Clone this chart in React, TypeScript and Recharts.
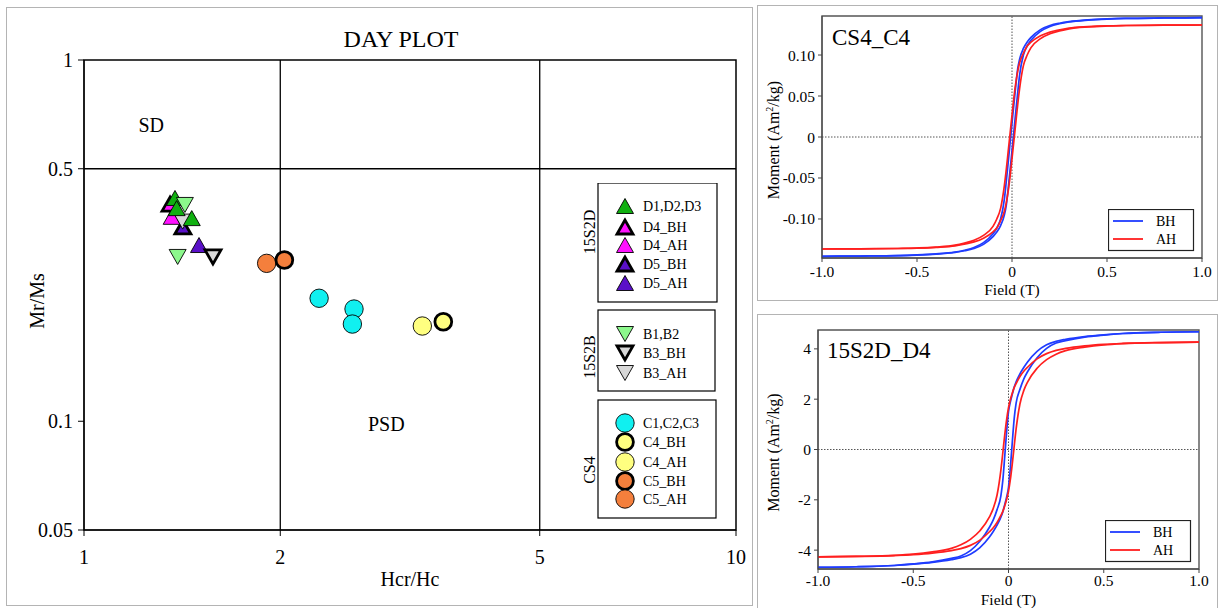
import React from "react";
import {
  ScatterChart,
  Scatter,
  LineChart,
  Line,
  XAxis,
  YAxis,
  ReferenceLine,
  ReferenceArea,
  Legend,
  Label,
} from "recharts";

const FONT = '"Liberation Serif", "Times New Roman", serif';

// ---- Day plot values (Hcr/Hc, Mr/Ms) ----
const d123 = [[1.379, 0.415], [1.387, 0.389], [1.463, 0.365]];
const d4bh = [[1.355, 0.399]];
const d4ah = [[1.363, 0.368]];
const d5bh = [[1.418, 0.345]];
const d5ah = [[1.501, 0.3075]];
const b12 = [[1.428, 0.397], [1.392, 0.285]];
const b3bh = [[1.577, 0.285]];
const b3ah = [[1.417, 0.357]];
const c123 = [[2.294, 0.219], [2.595, 0.2045], [2.58, 0.1858]];
const c4bh = [[3.557, 0.1886]];
const c4ah = [[3.303, 0.1835]];
const c5bh = [[2.029, 0.2795]];
const c5ah = [[1.906, 0.2736]];

const dayXTicks = [1, 2, 5, 10];
const dayYTicks = [0.05, 0.1, 0.5, 1];

// ---- Hysteresis loops: field (T) and moment (Am2/kg) ----
const field = [-1, -0.8, -0.6, -0.5, -0.4, -0.3, -0.25, -0.2, -0.15, -0.1, -0.08, -0.06, -0.04, -0.03, -0.02, -0.01, 0, 0.01, 0.02, 0.03, 0.04, 0.06, 0.08, 0.1, 0.15, 0.2, 0.25, 0.3, 0.4, 0.5, 0.6, 0.8, 1];

const cs4BhDesc = [-0.1455, -0.1452, -0.1447, -0.1439, -0.1426, -0.1403, -0.1381, -0.1348, -0.1288, -0.118, -0.111, -0.1001, -0.0755, -0.054, -0.031, -0.007, 0.017, 0.04, 0.063, 0.083, 0.095, 0.108, 0.116, 0.1215, 0.131, 0.136, 0.1388, 0.1407, 0.1429, 0.1441, 0.1447, 0.1452, 0.1455];
const cs4BhAsc = [-0.1455, -0.1452, -0.1447, -0.1441, -0.1429, -0.1407, -0.1388, -0.136, -0.131, -0.1215, -0.116, -0.108, -0.095, -0.083, -0.063, -0.04, -0.017, 0.007, 0.031, 0.054, 0.0755, 0.1001, 0.111, 0.118, 0.1288, 0.1348, 0.1381, 0.1403, 0.1426, 0.1439, 0.1447, 0.1452, 0.1455];
const cs4AhDesc = [-0.1366, -0.1364, -0.136, -0.1354, -0.1343, -0.132, -0.1294, -0.126, -0.12, -0.109, -0.1, -0.087, -0.059, -0.0396, -0.0176, 0.0044, 0.0264, 0.048, 0.066, 0.08, 0.0905, 0.102, 0.111, 0.1156, 0.1234, 0.128, 0.1306, 0.1328, 0.1346, 0.1356, 0.136, 0.1364, 0.1366];
const cs4AhAsc = [-0.1366, -0.1364, -0.136, -0.1356, -0.1346, -0.1328, -0.1306, -0.128, -0.1234, -0.1156, -0.111, -0.102, -0.0905, -0.08, -0.066, -0.048, -0.0264, -0.0044, 0.0176, 0.0396, 0.059, 0.087, 0.1, 0.109, 0.12, 0.126, 0.1294, 0.132, 0.1343, 0.1354, 0.136, 0.1364, 0.1366];

const d4BhDesc = [-4.68, -4.66, -4.61, -4.55, -4.47, -4.33, -4.23, -4.02, -3.65, -3.09, -2.8, -2.39, -1.84, -1.24, -0.3, 0.7, 1.5, 1.9, 2.2, 2.48, 2.69, 3.01, 3.26, 3.48, 3.9, 4.16, 4.3, 4.38, 4.49, 4.56, 4.61, 4.66, 4.68];
const d4BhAsc = [-4.68, -4.66, -4.61, -4.56, -4.49, -4.38, -4.3, -4.16, -3.9, -3.48, -3.26, -3.01, -2.69, -2.48, -2.2, -1.9, -1.5, -0.7, 0.3, 1.24, 1.84, 2.39, 2.8, 3.09, 3.65, 4.02, 4.23, 4.33, 4.47, 4.55, 4.61, 4.66, 4.68];
const d4AhDesc = [-4.27, -4.25, -4.21, -4.16, -4.07, -3.93, -3.79, -3.57, -3.23, -2.68, -2.34, -1.81, -0.82, -0.14, 0.56, 1.18, 1.66, 1.99, 2.25, 2.46, 2.62, 2.9, 3.11, 3.27, 3.6, 3.81, 3.94, 4.02, 4.12, 4.18, 4.215, 4.25, 4.27];
const d4AhAsc = [-4.27, -4.25, -4.215, -4.18, -4.12, -4.02, -3.94, -3.81, -3.6, -3.27, -3.11, -2.9, -2.62, -2.46, -2.25, -1.99, -1.66, -1.18, -0.56, 0.14, 0.82, 1.81, 2.34, 2.68, 3.23, 3.57, 3.79, 3.93, 4.07, 4.16, 4.21, 4.25, 4.27];

const fieldTicks = [-1, -0.5, 0, 0.5, 1];
const cs4Ticks = [-0.1, -0.05, 0, 0.05, 0.1];
const d4Ticks = [-4, -2, 0, 2, 4];

const BLUE = "#1f3cff";
const RED = "#ff1f1f";

type Kind = "up" | "down" | "circle";

function Marker({ cx, cy, kind, fill, thick }: { cx: number; cy: number; kind: Kind; fill: string; thick?: boolean }) {
  const sw = thick ? 2.8 : 0.9;
  if (kind === "circle") {
    return <circle cx={cx} cy={cy} r={thick ? 8.4 : 9.2} fill={fill} stroke="#000" strokeWidth={sw} />;
  }
  const w = thick ? 16 : 17;
  const h = thick ? 14 : 15;
  const pts =
    kind === "up"
      ? `${cx},${cy - h / 2} ${cx - w / 2},${cy + h / 2} ${cx + w / 2},${cy + h / 2}`
      : `${cx},${cy + h / 2} ${cx - w / 2},${cy - h / 2} ${cx + w / 2},${cy - h / 2}`;
  return <polygon points={pts} fill={fill} stroke="#000" strokeWidth={sw} strokeLinejoin="miter" />;
}

// draw order matters (later on top)
const daySeries: { name: string; data: number[][]; kind: Kind; fill: string; thick?: boolean }[] = [
  { name: "D4_BH", data: d4bh, kind: "up", fill: "#ff10ff", thick: true },
  { name: "D5_BH", data: d5bh, kind: "up", fill: "#5a10c8", thick: true },
  { name: "D4_AH", data: d4ah, kind: "up", fill: "#ff10ff" },
  { name: "B3_AH", data: b3ah, kind: "down", fill: "#d8d8d8" },
  { name: "D1,D2,D3", data: d123, kind: "up", fill: "#10b010" },
  { name: "B1,B2", data: b12, kind: "down", fill: "#8cf88c" },
  { name: "D5_AH", data: d5ah, kind: "up", fill: "#5a10c8" },
  { name: "B3_BH", data: b3bh, kind: "down", fill: "#d8d8d8", thick: true },
  { name: "C5_AH", data: c5ah, kind: "circle", fill: "#f47f3c" },
  { name: "C5_BH", data: c5bh, kind: "circle", fill: "#f47f3c", thick: true },
  { name: "C1,C2,C3", data: c123, kind: "circle", fill: "#10f0f0" },
  { name: "C4_AH", data: c4ah, kind: "circle", fill: "#ffff80" },
  { name: "C4_BH", data: c4bh, kind: "circle", fill: "#ffff80", thick: true },
];

const legendGroups = [
  { title: "15S2D", box: [23, 0, 119, 119], titleY: 49, items: ["D1,D2,D3", "D4_BH", "D4_AH", "D5_BH", "D5_AH"], rows: [23, 44, 62, 81, 100] },
  { title: "15S2B", box: [23, 127, 117, 81], titleY: 174, items: ["B1,B2", "B3_BH", "B3_AH"], rows: [151, 170, 190] },
  { title: "CS4", box: [23, 217, 118, 118], titleY: 287, items: ["C1,C2,C3", "C4_BH", "C4_AH", "C5_BH", "C5_AH"], rows: [240, 259, 279, 298, 316] },
];

function DayLegend() {
  return (
    <svg width={145} height={340} style={{ display: "block", fontFamily: FONT }}>
      {legendGroups.map((g) => (
        <g key={g.title}>
          <rect x={g.box[0]} y={g.box[1]} width={g.box[2]} height={g.box[3]} fill="#fff" stroke="#000" strokeWidth={1.2} />
          <text x={20} y={g.titleY} fontSize={16} textAnchor="middle" transform={`rotate(-90 20 ${g.titleY})`} fill="#000">
            {g.title}
          </text>
          {g.items.map((name, i) => {
            const s = daySeries.find((d) => d.name === name)!;
            return (
              <g key={name}>
                <Marker cx={50} cy={g.rows[i]} kind={s.kind} fill={s.fill} thick={s.thick} />
                <text x={68} y={g.rows[i] + 5} fontSize={14} fill="#000">
                  {name}
                </text>
              </g>
            );
          })}
        </g>
      ))}
    </svg>
  );
}

function DayPlot() {
  return (
    <ScatterChart width={760} height={608} margin={{ top: 60, right: 24, bottom: 0, left: 0 }} style={{ fontFamily: FONT }}>
      <XAxis
        dataKey="x"
        type="number"
        scale="log"
        domain={[1, 10]}
        ticks={dayXTicks}
        allowDataOverflow
        height={78}
        stroke="#000"
        tickSize={6}
        tickMargin={14}
        tick={{ fill: "#000", fontSize: 20, fontFamily: FONT }}
      >
        <Label
          content={(p: any) => (
            <text x={p.viewBox.x + p.viewBox.width / 2} y={p.viewBox.y + 56} textAnchor="middle" fontSize={20} fontFamily={FONT} fill="#000">
              Hcr/Hc
            </text>
          )}
        />
      </XAxis>
      <YAxis
        dataKey="y"
        type="number"
        scale="log"
        domain={[0.05, 1]}
        ticks={dayYTicks}
        allowDataOverflow
        width={84}
        stroke="#000"
        tickSize={6}
        tickMargin={5}
        tick={{ fill: "#000", fontSize: 20, fontFamily: FONT }}
      >
        <Label
          content={(p: any) => {
            const cy = p.viewBox.y + p.viewBox.height / 2 + 6;
            return (
              <text x={44} y={cy} textAnchor="middle" fontSize={20} fontFamily={FONT} fill="#000" transform={`rotate(-90 44 ${cy})`}>
                Mr/Ms
              </text>
            );
          }}
        />
      </YAxis>
      <ReferenceArea x1={1} x2={10} y1={0.05} y2={1} fill="none" stroke="#000" strokeWidth={1.5} />
      <ReferenceLine x={2} stroke="#000" strokeWidth={1.3} />
      <ReferenceLine x={5} stroke="#000" strokeWidth={1.3} />
      <ReferenceLine y={0.5} stroke="#000" strokeWidth={1.3} />
      {daySeries.map((s) => (
        <Scatter
          key={s.name}
          name={s.name}
          data={s.data.map(([x, y]) => ({ x, y }))}
          isAnimationActive={false}
          shape={(p: any) => <Marker cx={p.cx} cy={p.cy} kind={s.kind} fill={s.fill} thick={s.thick} />}
        />
      ))}
      <Legend
        layout="horizontal"
        verticalAlign="middle"
        align="center"
        content={() => <DayLegend />}
        wrapperStyle={{ position: "absolute", left: 575, top: 183, width: 145, height: 340 }}
      />
    </ScatterChart>
  );
}

function LoopLegend({ rows }: { rows: number[] }) {
  return (
    <svg width={87} height={43} style={{ display: "block", fontFamily: FONT }}>
      <rect x={0.5} y={0.5} width={85} height={41} fill="#fff" stroke="#222" strokeWidth={1.2} />
      <line x1={5} x2={35} y1={rows[0]} y2={rows[0]} stroke={BLUE} strokeWidth={1.8} />
      <line x1={5} x2={35} y1={rows[1]} y2={rows[1]} stroke={RED} strokeWidth={1.8} />
      <text x={48} y={rows[0] + 5} fontSize={14} fill="#000">BH</text>
      <text x={48} y={rows[1] + 5} fontSize={14} fill="#000">AH</text>
    </svg>
  );
}

function LoopChart(props: {
  width: number;
  height: number;
  margin: { top: number; right: number; bottom: number; left: number };
  yWidth: number;
  xHeight: number;
  xTickMargin: number;
  xLabelDy: number;
  yMax: number;
  yTicks: number[];
  yFmt: (v: number) => string;
  bhDesc: number[];
  bhAsc: number[];
  ahDesc: number[];
  ahAsc: number[];
  legendPos: { left: number; top: number };
  legendRows: number[];
}) {
  const data = field.map((f, i) => ({
    field: f,
    bhDesc: props.bhDesc[i],
    bhAsc: props.bhAsc[i],
    ahDesc: props.ahDesc[i],
    ahAsc: props.ahAsc[i],
  }));
  const tick = { fill: "#000", fontSize: 15.5, fontFamily: FONT };
  return (
    <LineChart width={props.width} height={props.height} data={data} margin={props.margin} style={{ fontFamily: FONT }}>
      <XAxis
        dataKey="field"
        type="number"
        domain={[-1, 1]}
        ticks={fieldTicks}
        allowDataOverflow
        height={props.xHeight}
        stroke="#444"
        tickSize={4}
        tickMargin={props.xTickMargin}
        tick={tick}
        tickFormatter={(v: number) => (v === 0 ? "0" : v.toFixed(1))}
      >
        <Label
          content={(p: any) => (
            <text x={p.viewBox.x + p.viewBox.width / 2} y={p.viewBox.y + props.xLabelDy} textAnchor="middle" fontSize={15.5} fontFamily={FONT} fill="#000">
              Field (T)
            </text>
          )}
        />
      </XAxis>
      <YAxis
        type="number"
        domain={[-props.yMax, props.yMax]}
        ticks={props.yTicks}
        allowDataOverflow
        width={props.yWidth}
        stroke="#444"
        tickSize={4}
        tickMargin={3}
        tick={tick}
        tickFormatter={props.yFmt}
      >
        <Label
          content={(p: any) => {
            const cy = p.viewBox.y + p.viewBox.height / 2 + 3;
            return (
              <text x={22} y={cy} textAnchor="middle" fontSize={16} fontFamily={FONT} fill="#000" transform={`rotate(-90 22 ${cy})`}>
                Moment (Am
                <tspan dy={-6} fontSize={10}>2</tspan>
                <tspan dy={6}>/kg)</tspan>
              </text>
            );
          }}
        />
      </YAxis>
      <ReferenceArea x1={-1} x2={1} y1={-props.yMax} y2={props.yMax} fill="none" stroke="#555" strokeWidth={1.4} />
      <ReferenceLine x={0} stroke="#555" strokeWidth={1} strokeDasharray="1.5 1.5" />
      <ReferenceLine y={0} stroke="#555" strokeWidth={1} strokeDasharray="1.5 1.5" />
      <Line dataKey="bhDesc" type="monotone" stroke={BLUE} strokeWidth={1.7} dot={false} activeDot={false} isAnimationActive={false} />
      <Line dataKey="bhAsc" type="monotone" stroke={BLUE} strokeWidth={1.7} dot={false} activeDot={false} isAnimationActive={false} />
      <Line dataKey="ahDesc" type="monotone" stroke={RED} strokeWidth={1.7} dot={false} activeDot={false} isAnimationActive={false} />
      <Line dataKey="ahAsc" type="monotone" stroke={RED} strokeWidth={1.7} dot={false} activeDot={false} isAnimationActive={false} />
      <Legend
        layout="horizontal"
        verticalAlign="middle"
        align="center"
        content={() => <LoopLegend rows={props.legendRows} />}
        wrapperStyle={{ position: "absolute", left: props.legendPos.left, top: props.legendPos.top, width: 87, height: 43 }}
      />
    </LineChart>
  );
}

export default function App() {
  return (
    <div style={{ position: "absolute", left: 0, top: 0, width: 1218, height: 608, background: "#fff", overflow: "hidden", fontFamily: FONT }}>
      <div style={{ position: "absolute", left: 6, top: 7, width: 745, height: 597, border: "1px solid #b4b4b4" }} />
      <div style={{ position: "absolute", left: 757, top: 5, width: 459, height: 294, border: "1px solid #b4b4b4" }} />
      <div style={{ position: "absolute", left: 757, top: 314, width: 459, height: 300, border: "1px solid #b4b4b4" }} />

      <div style={{ position: "absolute", left: 0, top: 0 }}>
        <DayPlot />
      </div>

      <div style={{ position: "absolute", left: 757, top: 0 }}>
        <LoopChart
          width={461}
          height={300}
          margin={{ top: 16, right: 16, bottom: 0, left: 0 }}
          yWidth={65}
          xHeight={42}
          xTickMargin={4}
          xLabelDy={37}
          yMax={0.1476}
          yTicks={cs4Ticks}
          yFmt={(v) => (v === 0 ? "0" : v.toFixed(2))}
          bhDesc={cs4BhDesc}
          bhAsc={cs4BhAsc}
          ahDesc={cs4AhDesc}
          ahAsc={cs4AhAsc}
          legendPos={{ left: 351, top: 209 }}
          legendRows={[12, 30]}
        />
      </div>

      <div style={{ position: "absolute", left: 757, top: 313 }}>
        <LoopChart
          width={461}
          height={295}
          margin={{ top: 17, right: 19, bottom: 0, left: 0 }}
          yWidth={61}
          xHeight={39}
          xTickMargin={2}
          xLabelDy={35.5}
          yMax={4.75}
          yTicks={d4Ticks}
          yFmt={(v) => String(v)}
          bhDesc={d4BhDesc}
          bhAsc={d4BhAsc}
          ahDesc={d4AhDesc}
          ahAsc={d4AhAsc}
          legendPos={{ left: 348, top: 207 }}
          legendRows={[12, 30]}
        />
      </div>

      <svg width={1218} height={608} style={{ position: "absolute", left: 0, top: 0, pointerEvents: "none", fontFamily: FONT }}>
        <text x={401} y={46.5} textAnchor="middle" fontSize={24} fill="#000">DAY PLOT</text>
        <text x={138.5} y={132} fontSize={20} fill="#000">SD</text>
        <text x={368} y={431} fontSize={20} fill="#000">PSD</text>
        <text x={832} y={45} fontSize={23} fill="#000">CS4_C4</text>
        <text x={827} y={358} fontSize={23} fill="#000">15S2D_D4</text>
      </svg>
    </div>
  );
}
